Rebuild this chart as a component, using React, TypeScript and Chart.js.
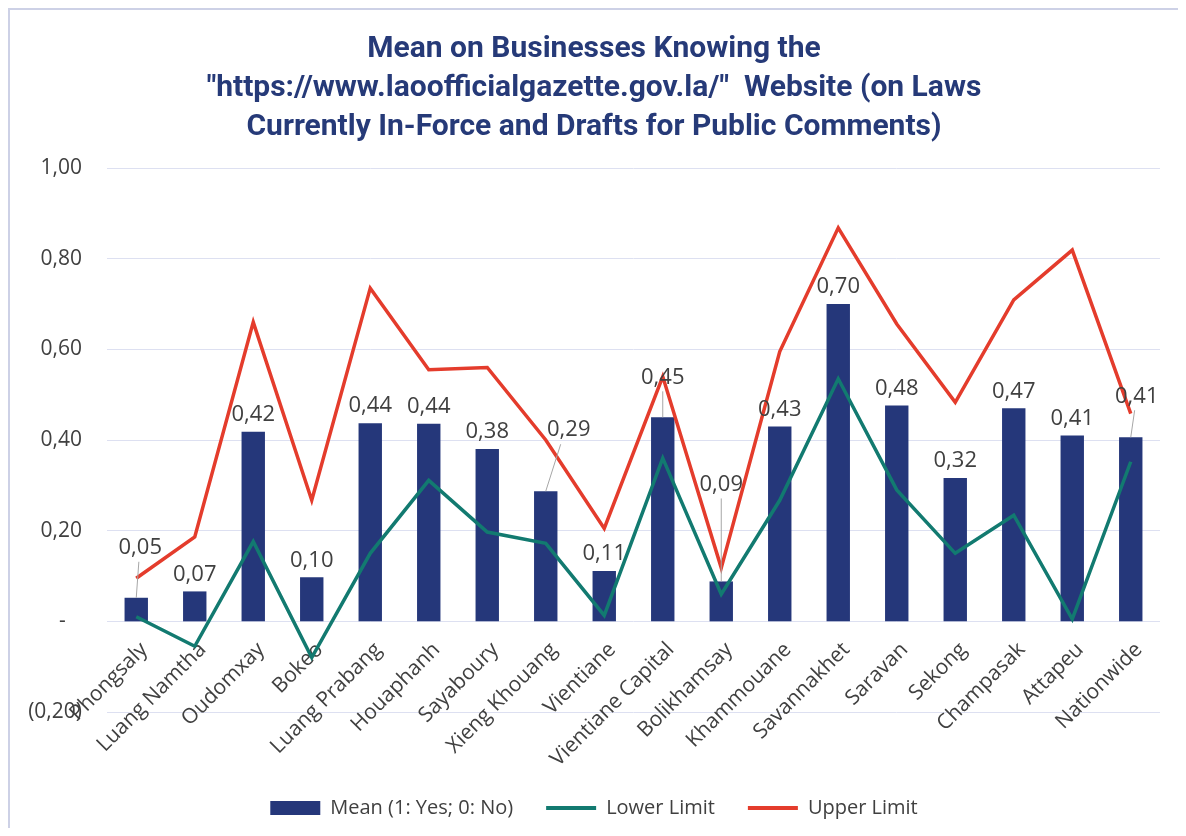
import React, { useEffect, useRef } from "react";
import { Chart, registerables } from "chart.js";

Chart.register(...registerables);

const titleLines = [
  "Mean on Businesses Knowing the",
  "\"https://www.laoofficialgazette.gov.la/\"  Website (on Laws",
  "Currently In-Force and Drafts for Public Comments)",
];

const categories = [
  "Phongsaly",
  "Luang Namtha",
  "Oudomxay",
  "Bokeo",
  "Luang Prabang",
  "Houaphanh",
  "Sayaboury",
  "Xieng Khouang",
  "Vientiane",
  "Vientiane Capital",
  "Bolikhamsay",
  "Khammouane",
  "Savannakhet",
  "Saravan",
  "Sekong",
  "Champasak",
  "Attapeu",
  "Nationwide",
];

const meanValues = [
  0.052, 0.066, 0.418, 0.097, 0.437, 0.436, 0.38, 0.287, 0.111, 0.45, 0.088, 0.43, 0.7, 0.476, 0.316, 0.47, 0.41, 0.406,
];

const lowerLimit = [
  0.01, -0.055, 0.176, -0.08, 0.15, 0.311, 0.197, 0.172, 0.013, 0.36, 0.06, 0.267, 0.535, 0.29, 0.15, 0.234, 0.005, 0.352,
];

const upperLimit = [
  0.095, 0.186, 0.66, 0.267, 0.735, 0.555, 0.56, 0.4, 0.205, 0.54, 0.118, 0.595, 0.868, 0.656, 0.483, 0.709, 0.819, 0.458,
];

const seriesNames = ["Mean (1: Yes; 0: No)", "Lower Limit", "Upper Limit"];

const yMin = -0.2;
const yMax = 1.0;
const yStep = 0.2;

const BAR_COLOR = "#25377a";
const LOWER_COLOR = "#127a70";
const UPPER_COLOR = "#e43c2c";
const TEXT_COLOR = "#404040";
const GRID_COLOR = "#dde0f1";
const FONT = "'Open Sans', 'Noto Sans', sans-serif";

const fmt = (v: number) => {
  if (Math.abs(v) < 1e-9) return "-   ";
  const s = Math.abs(v).toFixed(2).replace(".", ",");
  return v < 0 ? `(${s})` : s;
};

// label displacement (px) for labels that sit away from their bar with a leader line
const labelShift: Record<number, [number, number]> = {
  0: [4, -33],
  7: [23, -44],
  9: [0, -23],
  10: [0, -80],
  17: [6, -24],
};

const barLabelPlugin = {
  id: "barLabels",
  afterDatasetsDraw(chart: any) {
    const meta = chart.getDatasetMeta(0);
    const ctx = chart.ctx;
    ctx.save();
    ctx.font = `22px ${FONT}`;
    ctx.fillStyle = TEXT_COLOR;
    ctx.textAlign = "center";
    ctx.textBaseline = "middle";
    meta.data.forEach((bar: any, i: number) => {
      const shift = labelShift[i];
      const dx = shift ? shift[0] : 0;
      const dy = shift ? shift[1] : 0;
      const x = bar.x + dx;
      const y = bar.y - 17 + dy;
      if (shift) {
        ctx.save();
        ctx.strokeStyle = "#a6a6a6";
        ctx.lineWidth = 1;
        ctx.beginPath();
        ctx.moveTo(x - dx * 0.35, y + 14);
        ctx.lineTo(bar.x, bar.y);
        ctx.stroke();
        ctx.restore();
      }
      ctx.fillText(fmt(meanValues[i]), x, y);
    });
    ctx.restore();
  },
};

// category labels drawn at the zero line, rotated 45°, like a category axis crossing at 0
const categoryLabelPlugin = {
  id: "categoryLabels",
  beforeDatasetsDraw(chart: any) {
    const xScale = chart.scales.x;
    const yScale = chart.scales.y;
    const ctx = chart.ctx;
    const zeroY = yScale.getPixelForValue(0);
    ctx.save();
    ctx.font = `21px ${FONT}`;
    ctx.fillStyle = TEXT_COLOR;
    ctx.textAlign = "right";
    ctx.textBaseline = "middle";
    categories.forEach((label, i) => {
      const x = xScale.getPixelForTick(i);
      ctx.save();
      ctx.translate(x + 8, zeroY + 25);
      ctx.rotate(-Math.PI / 4);
      ctx.fillText(label, 0, 0);
      ctx.restore();
    });
    ctx.restore();
  },
};

export default function App() {
  const canvasRef = useRef<HTMLCanvasElement | null>(null);

  useEffect(() => {
    if (!canvasRef.current) return;
    const chart = new Chart(canvasRef.current, {
      type: "bar",
      data: {
        labels: categories,
        datasets: [
          {
            type: "bar",
            label: seriesNames[0],
            data: meanValues,
            backgroundColor: BAR_COLOR,
            barPercentage: 0.4,
            categoryPercentage: 1,
            order: 3,
          },
          {
            type: "line",
            label: seriesNames[1],
            data: lowerLimit,
            borderColor: LOWER_COLOR,
            backgroundColor: LOWER_COLOR,
            borderWidth: 3.5,
            pointRadius: 0,
            tension: 0,
            order: 2,
          },
          {
            type: "line",
            label: seriesNames[2],
            data: upperLimit,
            borderColor: UPPER_COLOR,
            backgroundColor: UPPER_COLOR,
            borderWidth: 3.5,
            pointRadius: 0,
            tension: 0,
            order: 1,
          },
        ] as any,
      },
      options: {
        responsive: false,
        animation: false,
        layout: { padding: { left: 18, right: 18, top: 0, bottom: 0 } },
        plugins: {
          title: {
            display: true,
            text: titleLines,
            color: "#263a78",
            font: { family: "Roboto", size: 30, weight: "bold", lineHeight: 1.3 },
            padding: { top: 19.5, bottom: 21.5 },
          },
          legend: {
            position: "bottom",
            labels: {
              color: TEXT_COLOR,
              font: { family: FONT, size: 20 },
              usePointStyle: true,
              pointStyleWidth: 50,
              boxHeight: 14,
              padding: 33,
              generateLabels: (ch: any) => {
                const items = (Chart.defaults.plugins.legend.labels as any).generateLabels(ch);
                return items
                  .slice()
                  .sort((a: any, b: any) => a.datasetIndex - b.datasetIndex)
                  .map((it: any) => {
                    const isBar = it.datasetIndex === 0;
                    const color = isBar ? BAR_COLOR : it.datasetIndex === 1 ? LOWER_COLOR : UPPER_COLOR;
                    return {
                      ...it,
                      pointStyle: isBar ? "rect" : "line",
                      lineWidth: isBar ? 0 : 4,
                      fillStyle: color,
                      strokeStyle: color,
                    };
                  });
              },
            },
          },
          tooltip: { enabled: false },
        },
        scales: {
          x: {
            grid: { display: false },
            border: { display: false },
            ticks: { display: false, autoSkip: false },
            afterFit: (scale: any) => {
              scale.height = 53;
            },
          },
          y: {
            min: yMin,
            max: yMax,
            grid: { color: GRID_COLOR, drawTicks: false, lineWidth: 1 },
            border: { display: false },
            ticks: {
              stepSize: yStep,
              color: TEXT_COLOR,
              font: { family: FONT, size: 21 },
              padding: 25,
              callback: (v: any) => fmt(Number(v)),
            },
            afterFit: (scale: any) => {
              scale.width = 79;
            },
          },
        },
      } as any,
      plugins: [categoryLabelPlugin, barLabelPlugin],
    });
    return () => chart.destroy();
  }, []);

  return (
    <div
      style={{
        width: 1170,
        height: 820,
        boxSizing: "border-box",
        borderTop: "2px solid #cdd1e6",
        borderLeft: "2px solid #cdd1e6",
        background: "#ffffff",
      }}
    >
      <canvas ref={canvasRef} width={1168} height={818} style={{ display: "block" }} />
    </div>
  );
}
